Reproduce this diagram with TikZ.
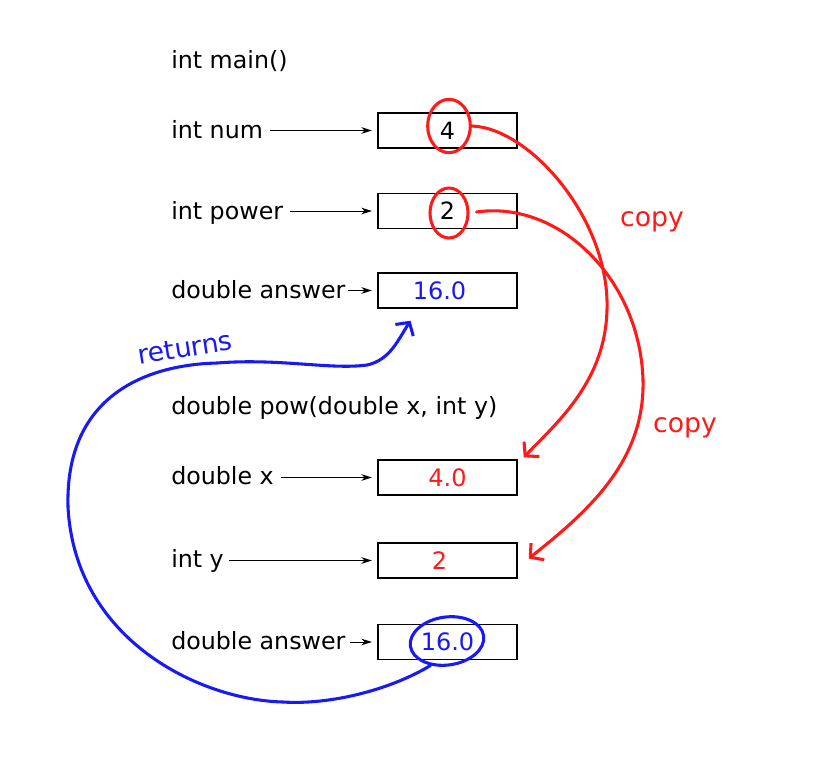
\documentclass[tikz,border=0pt]{standalone}
\usepackage{fontspec}
\setmainfont{DejaVu Sans}
\usetikzlibrary{arrows.meta,shapes.geometric}
\definecolor{penred}{RGB}{255,25,25}
\definecolor{penblue}{RGB}{25,25,245}
\begin{document}
\begin{tikzpicture}[x=0.75pt,y=-0.75pt,
  lbl/.style={anchor=base west,inner sep=0pt,font=\fontsize{17.8}{20}\selectfont},
  box/.style={draw,line width=1.1pt,minimum width=104.25pt,minimum height=26.25pt,inner sep=0pt,font=\fontsize{17.8}{20}\selectfont},
  hv/.style={font=\fontsize{18}{20}\selectfont},
  ptr/.style={-{Stealth[length=8pt,width=5pt]},line width=0.75pt,shorten >=4pt,shorten <=5pt},
  pen/.style={line width=2.3pt,line cap=round,line join=round},
  barb/.style={-{Straight Barb[length=7pt,width=16pt,line width=2.3pt]}},
  ring/.style={ellipse,draw,pen,inner sep=0pt},
  note/.style={font=\fontsize{20}{22}\selectfont}
]
\useasboundingbox (0,0) rectangle (816,774);

% main frame
\node[lbl] (hmain) at (171,69) {int main()};
\node[lbl] (lnum) at (171,138) {int num};
\node[lbl] (lpow) at (171,219) {int power};
\node[lbl] (lans) at (171,298) {double answer};

\node[box] (b1) at (447.5,130.5) {4};
\node[box] (b2) at (447.5,211) {2};
\node[box,hv,text=penblue] (b3) at (447.5,290.5) {\hspace*{-12pt}16.0};

% pow frame
\node[lbl] (hpow) at (171,414) {double pow(double x, int y)};
\node[lbl] (lx) at (171,484) {double x};
\node[lbl] (ly) at (171,567) {int y};
\node[lbl] (lans2) at (171,649) {double answer};

\node[box,hv,text=penred] (b4) at (447.5,477.5) {4.0};
\node[box,hv,text=penred] (b5) at (447.5,560.5) {\hspace*{-12pt}2};
\node[box,hv,text=penblue] (b6) at (447.5,642) {16.0};

% pointers
\draw[ptr] (lnum.east |- b1) -- (b1.west);
\draw[ptr] (lpow.east |- b2) -- (b2.west);
\draw[ptr,shorten <=1.5pt] (lans.east |- b3) -- (b3.west);
\draw[ptr] (lx.east |- b4) -- (b4.west);
\draw[ptr,shorten <=4pt] (ly.east |- b5) -- (b5.west);
\draw[ptr,shorten <=3pt] (lans2.east |- b6) -- (b6.west);

% rings
\node[ring,penred,minimum width=32pt,minimum height=40pt] (c4) at (449,126) {};
\node[ring,penred,minimum width=28.5pt,minimum height=37.5pt] (c2) at (449,213) {};
\node[ring,penblue,minimum width=55.5pt,minimum height=36pt,rotate=8] (c6) at (447,641) {};

% copy arrows
\draw[pen,penred,barb] (c4.east) .. controls (530,128) and (610,220) .. (607,310)
  .. controls (605,380) and (560,420) .. ([shift={(6,-2)}]b4.north east);
\draw[pen,penred,barb] ([shift={(7,-1)}]c2.east) .. controls (560,200) and (640,280) .. (643,380)
  .. controls (645,460) and (590,510) .. ([shift={(11,-2)}]b5.east);
\node[note,text=penred] (copy1) at (652,222) {copy};
\node[note,text=penred] (copy2) at (685,428) {copy};

% return arrow
\draw[pen,penblue,barb] (c6.228) .. controls (390,690) and (330,705) .. (283,702)
  .. controls (200,700) and (75,640) .. (68,507)
  .. controls (65,400) and (140,365) .. (217,363)
  .. controls (280,358) and (330,370) .. (367,365)
  .. controls (390,360) and (398,340) .. ([shift={(-37,12)}]b3.south);
\node[note,text=penblue,rotate=9] (ret) at (185,348) {returns};
\end{tikzpicture}
\end{document}
